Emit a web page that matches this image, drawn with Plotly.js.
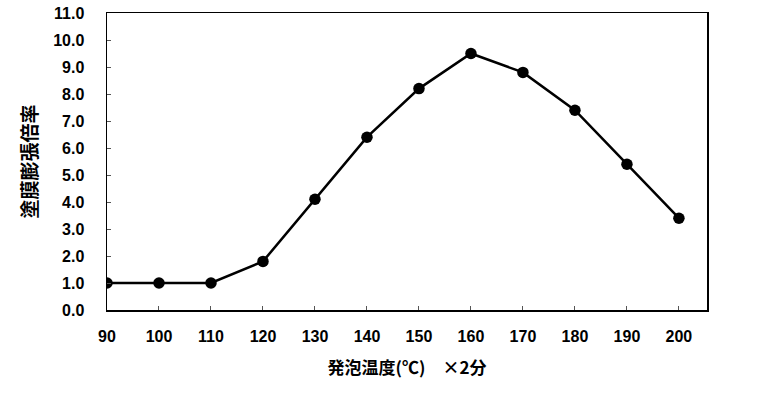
<!DOCTYPE html>
<html><head><meta charset="utf-8">
<script src="https://cdn.plot.ly/plotly-3.0.1.min.js"></script>
<style>body{margin:0;background:#fff}#c{width:766px;height:398px}</style>
</head><body><div id="c"></div>
<script>
const temps = [90, 100, 110, 120, 130, 140, 150, 160, 170, 180, 190, 200];
const ratio = [1.0, 1.0, 1.0, 1.8, 4.1, 6.4, 8.2, 9.5, 8.8, 7.4, 5.4, 3.4];
const yTicks = [0,1,2,3,4,5,6,7,8,9,10,11];
const xTitle = '発泡温度(℃)　×2分';
const yTitle = '塗膜膨張倍率';

const fontFam = '"Noto Sans CJK JP", "Liberation Sans", Arial, sans-serif';
const numFont = '"Liberation Sans", Arial, sans-serif';
Plotly.newPlot('c', [{
  x: temps, y: ratio, type: 'scatter', mode: 'lines+markers',
  line: {color: '#000', width: 2.5},
  marker: {color: '#000', size: 11.5},
  showlegend: false
}], {
  width: 766, height: 398,
  margin: {l: 107, r: 59, t: 13, b: 88},
  paper_bgcolor: '#fff', plot_bgcolor: '#fff',
  font: {family: fontFam, color: '#000', size: 14},
  xaxis: {
    range: [90, 205.4], tickvals: temps, ticktext: temps.map(String),
    showgrid: false, zeroline: false, showline: true, linecolor: '#000', linewidth: 1.5,
    mirror: true, ticks: 'inside', ticklen: 4, tickcolor: '#555', tickwidth: 1,
    tickfont: {family: numFont, size: 16, weight: 'bold', color: '#000'},
    ticklabelstandoff: 11,
    title: {text: xTitle, font: {family: fontFam, size: 17, weight: 'bold', color: '#000'}, standoff: 18}
  },
  yaxis: {
    range: [0, 11], tickvals: yTicks, tickformat: '.1f',
    showgrid: false, zeroline: false, showline: true, linecolor: '#000', linewidth: 1.5,
    mirror: true, ticks: 'inside', ticklen: 4, tickcolor: '#555', tickwidth: 1,
    tickfont: {family: numFont, size: 16, weight: 'bold', color: '#000'},
    ticklabelstandoff: 18,
    title: {text: yTitle, font: {family: fontFam, size: 19, weight: 'bold', color: '#000'}, standoff: 10}
  }
}, {displayModeBar: false, staticPlot: true});
</script></body></html>
